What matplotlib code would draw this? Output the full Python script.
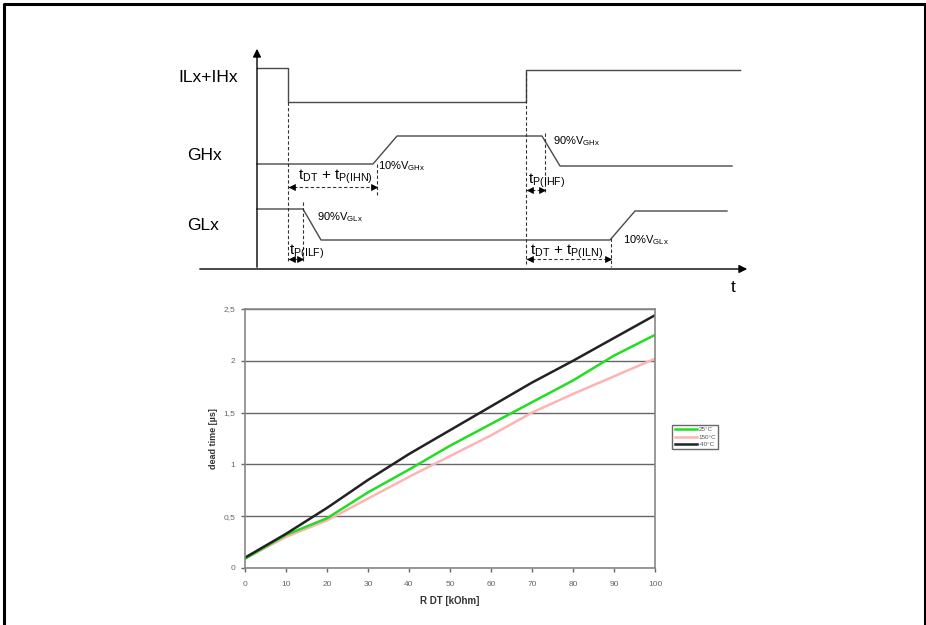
import numpy as np
import matplotlib.pyplot as plt

plt.rcParams["font.family"] = ["Liberation Sans", "DejaVu Sans"]
plt.rcParams["mathtext.fontset"] = "custom"
plt.rcParams["mathtext.rm"] = "Liberation Sans"
plt.rcParams["mathtext.it"] = "Liberation Sans"

# timing diagram waveforms (diagram coords, y grows downward)
il_t = [257, 288, 288, 526, 526, 740]
il_y = [68, 68, 102, 102, 70, 70]
gh_t = [257, 373, 397, 542, 560, 732]
gh_y = [164, 164, 136, 136, 166, 166]
gl_t = [257, 303, 321, 610, 635, 727]
gl_y = [209, 209, 240, 240, 211, 211]

# dashed markers: (x, y_top, y_bottom)
dash_lines = [(288, 102, 262), (303, 202, 262), (377, 164, 195),
              (526, 72, 264), (545, 133, 192), (611, 238, 267)]
# timing intervals: (x_start, x_end, y)
intervals = [(288, 377, 187), (288, 303, 259), (526, 545, 190), (526, 611, 259)]

# dead time chart
r_dt = [0, 10, 20, 30, 40, 50, 60, 70, 80, 90, 100]
dt_25 = [0.09, 0.32, 0.48, 0.73, 0.95, 1.18, 1.39, 1.60, 1.81, 2.05, 2.25]
dt_150 = [0.09, 0.30, 0.46, 0.67, 0.88, 1.08, 1.28, 1.50, 1.68, 1.85, 2.02]
dt_m40 = [0.10, 0.33, 0.58, 0.85, 1.10, 1.33, 1.56, 1.79, 2.00, 2.22, 2.44]
legend_labels = ["25°C", "150°C", "-40°C"]

W, H = 926, 625
fig = plt.figure(figsize=(W / 100, H / 100), dpi=100)

# overlay for diagram and frame
ax = fig.add_axes([0, 0, 1, 1])
ax.set_xlim(0, W)
ax.set_ylim(H, 0)
ax.axis("off")

# outer frame
ax.plot([4, 4, 925, 925], [H, 4, 4, H], color="black", lw=2.2, solid_capstyle="butt")

wave = "#4a4a4a"
ax.plot(il_t, il_y, color=wave, lw=1)
ax.plot(gh_t, gh_y, color=wave, lw=1)
ax.plot(gl_t, gl_y, color=wave, lw=1)

# axes of diagram
ax.annotate("", xy=(257, 46), xytext=(257, 270),
            arrowprops=dict(arrowstyle="-|>", color="black", lw=1, mutation_scale=12))
ax.annotate("", xy=(750, 269), xytext=(197, 269),
            arrowprops=dict(arrowstyle="-|>", color="black", lw=1, mutation_scale=12))

for x, y0, y1 in dash_lines:
    ax.plot([x, x], [y0, y1], color="#333333", lw=0.8, dashes=(3, 2))

for x0, x1, y in intervals:
    ax.plot([x0, x1], [y, y], color="#333333", lw=0.8, dashes=(3, 2))
    ax.plot([x0 + 3.5], [y], marker="<", color="black", ms=4.5, mec="black", mew=0.5)
    ax.plot([x1 - 3.5], [y], marker=">", color="black", ms=4.5, mec="black", mew=0.5)

ax.text(178, 77, "ILx+IHx", fontsize=12.5, va="center")
ax.text(187, 155, "GHx", fontsize=12.5, va="center")
ax.text(187, 225, "GLx", fontsize=12.5, va="center")
ax.text(731, 287, "t", fontsize=12.5, va="center")

ax.text(378, 166, r"10%V$_{\mathregular{GHx}}$", fontsize=8, va="center")
ax.text(317, 217, r"90%V$_{\mathregular{GLx}}$", fontsize=8, va="center")
ax.text(553, 141, r"90%V$_{\mathregular{GHx}}$", fontsize=8, va="center")
ax.text(623, 240, r"10%V$_{\mathregular{GLx}}$", fontsize=8, va="center")

ax.text(298, 177, r"$\mathregular{t_{DT}}$ + $\mathregular{t_{P(IHN)}}$", fontsize=11, va="center")
ax.text(289, 252, r"$\mathregular{t_{P(ILF)}}$", fontsize=11, va="center")
ax.text(528, 181, r"$\mathregular{t_{P(IHF)}}$", fontsize=11, va="center")
ax.text(530, 252, r"$\mathregular{t_{DT}}$ + $\mathregular{t_{P(ILN)}}$", fontsize=11, va="center")

# chart
left, right, top, bottom = 245, 655, 309, 568
cax = fig.add_axes([left / W, 1 - bottom / H, (right - left) / W, (bottom - top) / H])
cax.plot(r_dt, dt_150, color="#ffb3b3", lw=1.8, label=legend_labels[1])
cax.plot(r_dt, dt_25, color="#22dd22", lw=1.8, label=legend_labels[0])
cax.plot(r_dt, dt_m40, color="#222222", lw=1.8, label=legend_labels[2])
cax.set_xlim(0, 100)
cax.set_ylim(0, 2.5)
cax.set_xticks(np.arange(0, 101, 10))
cax.set_yticks([0, 0.5, 1, 1.5, 2, 2.5])
cax.set_yticklabels(["0", "0,5", "1", "1,5", "2", "2,5"])
cax.yaxis.grid(True, color="#666666", lw=1)
cax.set_axisbelow(True)
for s in cax.spines.values():
    s.set_color("#888888")
    s.set_linewidth(1.2)
cax.tick_params(labelsize=6, colors="#666666", length=3, width=1)
cax.tick_params(axis="x", pad=6)
cax.tick_params(axis="y", pad=4)
cax.set_xlabel("R DT [kOhm]", fontsize=7, fontweight="bold", color="#333333", labelpad=6)
cax.set_ylabel("dead time [µs]", fontsize=6.5, fontweight="bold", color="#333333", labelpad=4)

h, l = cax.get_legend_handles_labels()
order = [1, 0, 2]
fig.legend([h[i] for i in order], [l[i] for i in order],
           loc="center left", bbox_to_anchor=(669 / W, 1 - 437 / H),
           fontsize=4.5, frameon=True, fancybox=False, edgecolor="#444444",
           handlelength=3.5, handletextpad=0.3, borderpad=0.4, labelspacing=0.3,
           labelcolor="#555555")

fig.savefig("out.png", dpi=100, facecolor="white")
